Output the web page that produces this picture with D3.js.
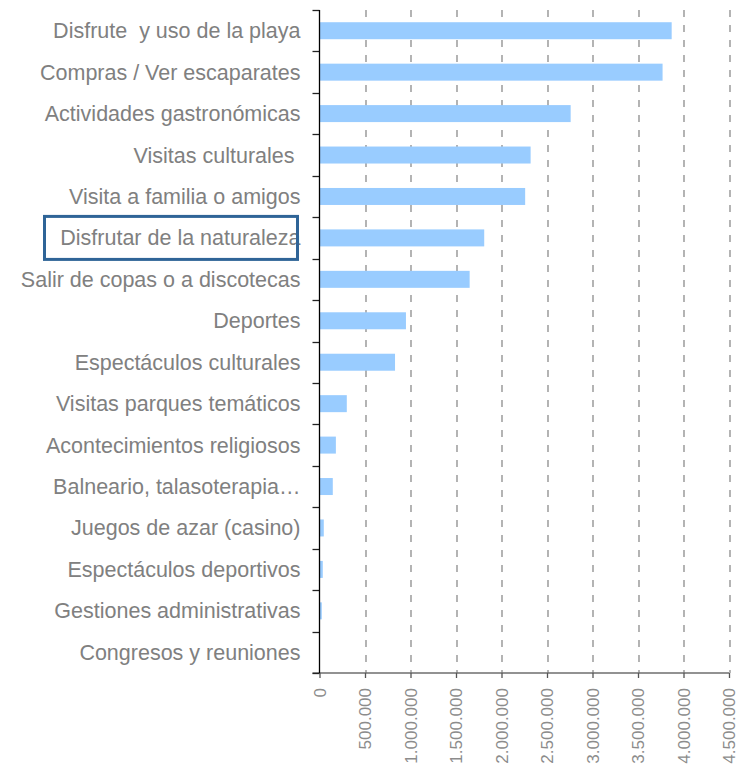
<!DOCTYPE html>
<html>
<head>
<meta charset="utf-8">
<script src="https://cdn.jsdelivr.net/npm/d3@7"></script>
<style>
  body { margin: 0; background: #fff; }
  text { font-family: "Liberation Sans", Arial, sans-serif; white-space: pre; }
</style>
</head>
<body>
<svg id="chart" width="738" height="764"></svg>
<script>
// ---------------------------------------- data ----------------------------------------
var categories = ["Disfrute  y uso de la playa", "Compras / Ver escaparates", "Actividades gastronómicas",
    "Visitas culturales ", "Visita a familia o amigos", "Disfrutar de la naturaleza",
    "Salir de copas o a discotecas", "Deportes", "Espectáculos culturales",
    "Visitas parques temáticos", "Acontecimientos religiosos", "Balneario, talasoterapia…",
    "Juegos de azar (casino)", "Espectáculos deportivos", "Gestiones administrativas",
    "Congresos y reuniones"];
var values = [3870000, 3770000, 2760000, 2320000, 2260000, 1810000, 1650000, 950000, 830000,
    300000, 180000, 146000, 47000, 36000, 25000, 3000];
var tickValues = [0, 500000, 1000000, 1500000, 2000000, 2500000, 3000000, 3500000, 4000000, 4500000];
var highlighted = "Disfrutar de la naturaleza";

// ---------------------------------------- chart ----------------------------------------
var marginLeft = 319.5, marginTop = 10, width = 409.5, height = 663;

var svg = d3.select("#chart");

var x = d3.scaleLinear().domain([0, 4500000]).range([0, width]);
var y = d3.scaleBand().domain(categories).range([0, height]).paddingInner(0.59).paddingOuter(0.295);

var g = svg.append("g").attr("transform", "translate(" + marginLeft + "," + marginTop + ")");

var fmt = function(d) {
    return d3.format(",")(d).replace(/,/g, ".");
};

// dashed gridlines
g.selectAll(".grid")
    .data(tickValues.slice(1))
    .enter().append("line")
    .attr("class", "grid")
    .attr("x1", function(d) { return Math.round(x(d)) + 0.5; })
    .attr("x2", function(d) { return Math.round(x(d)) + 0.5; })
    .attr("y1", 0)
    .attr("y2", height)
    .attr("stroke", "#8c8c8c")
    .attr("stroke-width", 1.3)
    .attr("stroke-dasharray", "7,8");

// bars
g.selectAll(".bar")
    .data(categories)
    .enter().append("rect")
    .attr("class", "bar")
    .attr("x", 0)
    .attr("y", function(d) { return y(d); })
    .attr("width", function(d, i) { return x(values[i]); })
    .attr("height", y.bandwidth())
    .style("fill", "#99ccff");

// x axis
var xAxis = g.append("g")
    .attr("transform", "translate(0," + height + ")")
    .call(d3.axisBottom(x).tickValues(tickValues).tickFormat(fmt).tickSize(5).tickSizeOuter(0));
xAxis.select(".domain").attr("stroke", "#6e6e6e").attr("stroke-width", 1.5)
    .attr("d", "M-7,0H" + width);
xAxis.selectAll(".tick line").attr("stroke", "#555").attr("stroke-width", 1.3);
xAxis.selectAll(".tick text")
    .attr("transform", "rotate(-90)")
    .attr("x", -15)
    .attr("y", 0)
    .attr("dy", "0.35em")
    .style("text-anchor", "end")
    .style("font-size", "17px")
    .style("fill", "#8c8c8c");

// y axis: ticks at band boundaries
var edges = categories.map(function(d) { return y(d) - y.step() * y.paddingInner() / 2; });
edges.push(height);

g.selectAll(".ytick")
    .data(edges)
    .enter().append("line")
    .attr("class", "ytick")
    .attr("x1", -7)
    .attr("x2", 0)
    .attr("y1", function(d) { return Math.round(d) + 0.5; })
    .attr("y2", function(d) { return Math.round(d) + 0.5; })
    .attr("stroke", "#222")
    .attr("stroke-width", 1.3);

g.append("line")
    .attr("x1", 0).attr("x2", 0)
    .attr("y1", 0).attr("y2", height)
    .attr("stroke", "#000")
    .attr("stroke-width", 1.3);

// category labels
g.selectAll(".label")
    .data(categories)
    .enter().append("text")
    .attr("class", "label")
    .attr("x", -19)
    .attr("y", function(d) { return y(d) + y.bandwidth() / 2; })
    .attr("dy", "0.35em")
    .style("text-anchor", "end")
    .style("font-size", "21.5px")
    .style("fill", "#808080")
    .text(function(d) { return d; });

// highlight box around one label
var hy = y(highlighted) + y.bandwidth() / 2;
g.append("rect")
    .attr("x", 44.5 - marginLeft)
    .attr("y", hy - 21.5)
    .attr("width", 253)
    .attr("height", 43)
    .attr("fill", "none")
    .attr("stroke", "#2f6497")
    .attr("stroke-width", 3);
</script>
</body>
</html>
